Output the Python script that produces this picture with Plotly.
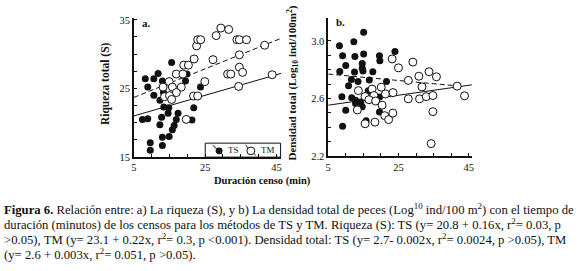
import plotly.graph_objects as go

W, H = 580, 271

# ---------------- data ----------------
# Panel a: Riqueza total (S) vs Duración censo (min)
ts_a_x = [8.2, 8.9, 10.6, 11.8, 13.0, 15.6, 10.6, 12.3, 13.3, 13.4, 14.8, 7.4, 8.9, 12.8, 12.3,
          17.4, 16.9, 16.3, 15.8, 13.0, 14.9, 9.6, 9.6, 13.0, 19.5, 19.9, 23.7, 21.8, 21.3, 14.6]
ts_a_y = [26.4, 25.2, 26.4, 27.2, 26.1, 28.8, 24.0, 23.3, 24.4, 22.3, 22.2, 20.5, 20.6, 20.8, 19.7,
          21.4, 20.5, 19.6, 19.0, 17.9, 18.0, 17.1, 16.0, 16.7, 26.1, 27.1, 25.2, 22.2, 20.4, 21.4]
tm_a_x = [13.2, 14.9, 15.8, 18.3, 16.9, 13.6, 15.0, 15.6, 16.9, 18.75, 19.0, 20.3, 21.9, 22.6, 22.9,
          23.75, 24.9, 21.75, 22.9, 19.7, 27.2, 28.1, 29.4, 31.6, 31.3, 32.2, 33.9, 34.6, 36.6, 34.6,
          34.6, 35.5, 34.4, 41.7, 43.8]
tm_a_y = [25.2, 26.0, 25.2, 25.2, 24.4, 23.8, 23.95, 23.4, 27.1, 27.1, 28.4, 28.4, 29.3, 31.2, 32.1,
          32.1, 26.0, 23.9, 23.9, 20.5, 29.2, 32.7, 33.8, 33.6, 27.1, 27.1, 32.1, 32.1, 32.1, 29.9,
          28.1, 27.35, 25.3, 31.3, 27.0]
fit_a_x = [5, 46.3]
fit_a_solid = [21.0, 27.2]
fit_a_dash = [23.7, 32.3]

# Panel b: Densidad total vs Duración censo (min)
ts_b_x = [8.2, 15.1, 12.3, 9.1, 12.6, 15.1, 10.0, 14.7, 14.7, 19.6, 19.7, 24.0, 8.3, 12.5, 14.9,
          17.7, 11.6, 13.5, 10.8, 16.7, 21.6, 8.9, 11.7, 12.8, 12.8, 14.3, 14.7, 17.5, 19.6, 16.4,
          10.0, 19.6, 15.8, 9.1]
ts_b_y = [2.967, 3.06, 2.995, 2.897, 2.892, 2.91, 2.83, 2.844, 2.81, 2.897, 2.863, 2.927, 2.788,
          2.784, 2.791, 2.786, 2.733, 2.718, 2.688, 2.728, 2.719, 2.612, 2.606, 2.588, 2.566, 2.576,
          2.543, 2.61, 2.61, 2.655, 2.519, 2.506, 2.446, 2.407]
tm_b_x = [23.2, 25.0, 20.1, 17.5, 13.6, 15.5, 18.0, 16.6, 18.5, 21.3, 23.45, 13.3, 20.35, 21.1, 22.2,
          23.4, 15.5, 18.3, 29.1, 33.7, 35.8, 30.8, 27.8, 31.7, 41.7, 43.8, 27.8, 31.0, 32.9, 34.8,
          34.8, 34.3]
tm_b_y = [2.875, 2.813, 2.679, 2.666, 2.655, 2.614, 2.621, 2.592, 2.583, 2.632, 2.641, 2.521, 2.554,
          2.481, 2.454, 2.499, 2.425, 2.436, 2.853, 2.786, 2.751, 2.755, 2.726, 2.681, 2.686, 2.619,
          2.598, 2.598, 2.613, 2.621, 2.509, 2.287]
fit_b_solid_x = [5, 45.9]
fit_b_solid = [2.554, 2.695]
fit_b_dash_x = [5, 41.7]
fit_b_dash = [2.770, 2.688]

x_major = [5, 25, 45]
x_minor = [10, 15, 20, 30, 35, 40]
ya_major = [15, 25, 35]
ya_minor = [17.5, 20, 22.5, 27.5, 30, 32.5]
yb_major = [2.2, 2.6, 3.0]
yb_major_text = ["2.2", "2.6", "3.0"]
yb_minor = [2.3, 2.4, 2.5, 2.7, 2.8, 2.9]

caption_lines = [
    "<b>Figura 6.</b> Relación entre: a) La riqueza (S), y b) La densidad total de peces (Log<sup>10</sup> ind/100 m<sup>2</sup>) con el tiempo de",
    "duración (minutos) de los censos para los métodos de TS y TM. Riqueza (S): TS (y= 20.8 + 0.16x, r<sup>2</sup>= 0.03, p",
    "&gt;0.05), TM (y= 23.1 + 0.22x, r<sup>2</sup>= 0.3, p &lt;0.001). Densidad total: TS (y= 2.7- 0.002x, r<sup>2</sup>= 0.0024, p &gt;0.05), TM",
    "(y= 2.6 + 0.003x, r<sup>2</sup>= 0.051, p &gt;0.05).",
]

# ---------------- figure ----------------
SERIF = "Liberation Serif, Times New Roman, serif"
BLACK = "#111111"

def px(x):
    return x / W

def py(y):
    return 1 - y / H

fig = go.Figure()

filled = dict(symbol="circle", size=7, color=BLACK, line=dict(width=0))
opened = dict(symbol="circle", size=8, color="white", line=dict(width=1, color=BLACK))

fig.add_trace(go.Scatter(x=ts_a_x, y=ts_a_y, mode="markers", marker=filled, xaxis="x", yaxis="y"))
fig.add_trace(go.Scatter(x=fit_a_x, y=fit_a_solid, mode="lines", line=dict(color=BLACK, width=1),
                         xaxis="x", yaxis="y"))
fig.add_trace(go.Scatter(x=fit_a_x, y=fit_a_dash, mode="lines", line=dict(color=BLACK, width=1, dash="5px,3px"),
                         xaxis="x", yaxis="y"))
fig.add_trace(go.Scatter(x=tm_a_x, y=tm_a_y, mode="markers", marker=opened, xaxis="x", yaxis="y"))

fig.add_trace(go.Scatter(x=ts_b_x, y=ts_b_y, mode="markers", marker=filled, xaxis="x2", yaxis="y2"))
fig.add_trace(go.Scatter(x=fit_b_solid_x, y=fit_b_solid, mode="lines", line=dict(color=BLACK, width=1),
                         xaxis="x2", yaxis="y2"))
fig.add_trace(go.Scatter(x=fit_b_dash_x, y=fit_b_dash, mode="lines",
                         line=dict(color=BLACK, width=1, dash="5px,3px"), xaxis="x2", yaxis="y2"))
fig.add_trace(go.Scatter(x=tm_b_x, y=tm_b_y, mode="markers", marker=opened, xaxis="x2", yaxis="y2"))

axis_common = dict(showline=True, linecolor=BLACK, linewidth=1.5, ticks="inside", ticklen=3,
                   tickwidth=1, tickcolor=BLACK, showgrid=False, zeroline=False,
                   tickfont=dict(family=SERIF, size=10.5, color=BLACK), mirror=False,
                   tickmode="array")

def minor(vals):
    return dict(tickmode="array", tickvals=vals, ticks="inside", ticklen=3, tickwidth=1,
                tickcolor=BLACK, showgrid=False)

fig.update_layout(
    width=W, height=H,
    margin=dict(l=0, r=0, t=0, b=0),
    paper_bgcolor="white", plot_bgcolor="white",
    showlegend=False,
    xaxis=dict(domain=[px(132), px(280.5)], range=[5, 46.3], tickvals=x_major,
               minor=minor(x_minor), anchor="y", **axis_common),
    yaxis=dict(domain=[py(159), py(15)], range=[15, 35.2], tickvals=ya_major,
               minor=minor(ya_minor), anchor="x", **axis_common),
    xaxis2=dict(domain=[px(328), px(473)], range=[5, 45.9], tickvals=x_major,
                minor=minor(x_minor), anchor="y2", **axis_common),
    yaxis2=dict(domain=[py(158), py(15)], range=[2.2, 3.156], tickvals=yb_major,
                ticktext=yb_major_text, minor=minor(yb_minor), anchor="x2", **axis_common),
)

P = dict(xref="paper", yref="paper", showarrow=False)
ann = []
# panel labels
ann.append(dict(x=px(138), y=py(20), text="<b>a.</b>", xanchor="left", yanchor="middle",
                font=dict(family=SERIF, size=11, color=BLACK), **P))
ann.append(dict(x=px(334), y=py(19), text="<b>b.</b>", xanchor="left", yanchor="middle",
                font=dict(family=SERIF, size=11, color=BLACK), **P))
# y axis titles
ann.append(dict(x=px(104), y=py(83), text="<b>Riqueza total (S)</b>", textangle=-90,
                xanchor="center", yanchor="middle", font=dict(family=SERIF, size=11.5, color=BLACK), **P))
ann.append(dict(x=px(292), y=py(82), text="<b>Densidad total (Log<sub>10</sub> ind/100m<sup>2</sup>)</b>",
                textangle=-90, xanchor="center", yanchor="middle",
                font=dict(family=SERIF, size=11, color=BLACK), **P))
# x axis title
ann.append(dict(x=px(262), y=py(184), text="<b>Duración censo (min)</b>",
                xanchor="center", yanchor="middle", font=dict(family=SERIF, size=10.5, color=BLACK), **P))
# caption
cap_y = [212.7, 228.3, 244.0, 259.5]
for t, yy in zip(caption_lines, cap_y):
    ann.append(dict(x=0, y=py(yy), text=t, xanchor="left", yanchor="middle", borderpad=0,
                    font=dict(family=SERIF, size=12.7, color=BLACK), **P))
# legend texts
ann.append(dict(x=px(224.5), y=py(152), text="TS", xanchor="left", yanchor="middle",
                font=dict(family=SERIF, size=9, color=BLACK), **P))
ann.append(dict(x=px(258.5), y=py(152), text="TM", xanchor="left", yanchor="middle",
                font=dict(family=SERIF, size=9, color=BLACK), **P))
fig.update_layout(annotations=ann)

# legend box drawn with shapes
shapes = [
    dict(type="rect", xref="paper", yref="paper", x0=px(204), x1=px(280), y0=py(159), y1=py(144.5),
         line=dict(color=BLACK, width=1), fillcolor="rgba(0,0,0,0)"),
    dict(type="line", xref="paper", yref="paper", x0=px(211.5), y0=py(146.5), x1=px(221.5), y1=py(156.5),
         line=dict(color=BLACK, width=1)),
    dict(type="circle", xref="paper", yref="paper", x0=px(214.5), x1=px(221.5), y0=py(156), y1=py(149),
         line=dict(color=BLACK, width=0), fillcolor=BLACK),
    dict(type="line", xref="paper", yref="paper", x0=px(244.5), y0=py(146.5), x1=px(255), y1=py(157),
         line=dict(color=BLACK, width=1)),
    dict(type="circle", xref="paper", yref="paper", x0=px(246), x1=px(254), y0=py(156.5), y1=py(148.5),
         line=dict(color=BLACK, width=1), fillcolor="white"),
]
fig.update_layout(shapes=shapes)

fig.write_html("out.html", config={"displayModeBar": False},
               post_script="document.body.style.margin='0px';")
